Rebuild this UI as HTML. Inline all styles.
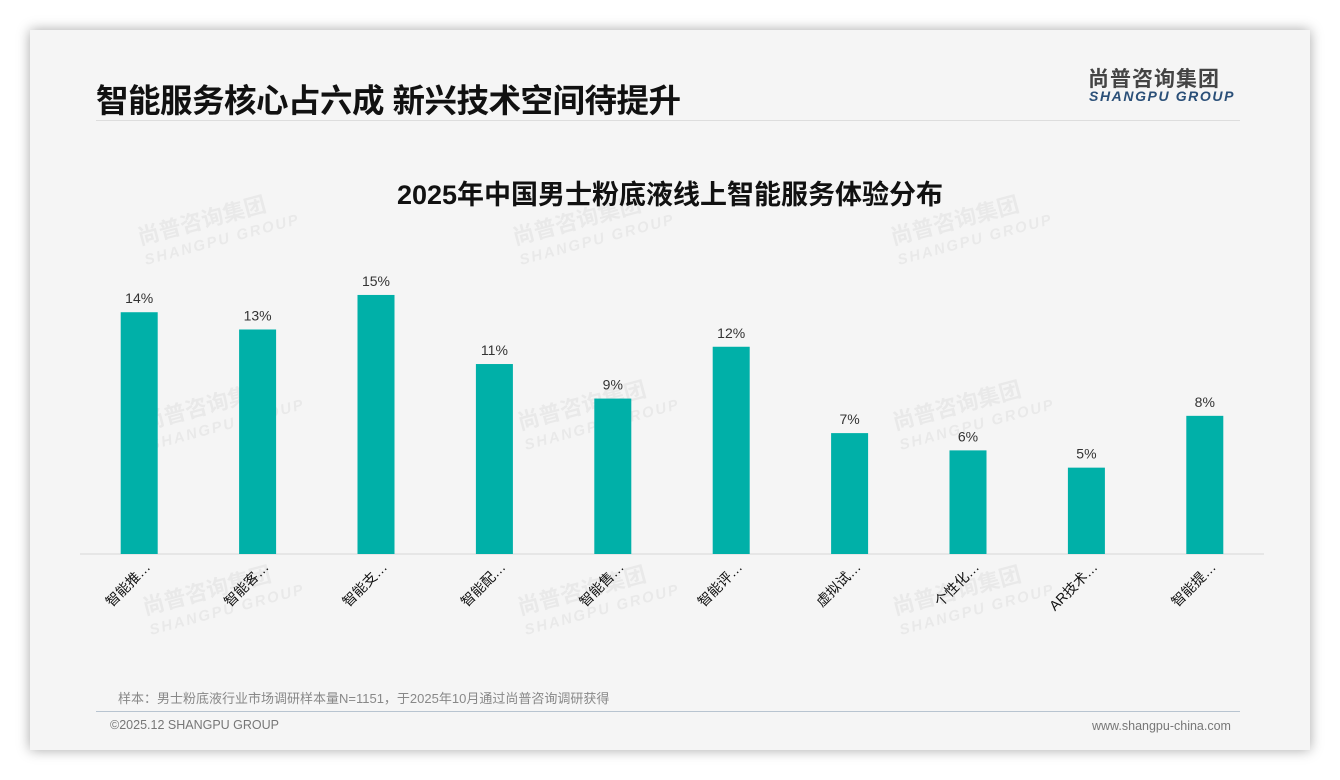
<!DOCTYPE html>
<html><head><meta charset="utf-8">
<style>
body{margin:0;width:1340px;height:780px;background:#fff;font-family:"Liberation Sans","Noto Sans CJK SC",sans-serif;overflow:hidden;position:relative}
#card{position:absolute;left:30px;top:30px;width:1280px;height:720px;background:#f5f5f5;box-shadow:0 0 12px rgba(0,0,0,.35)}
.abs{position:absolute}
</style></head><body>
<div id="card">
<div class="abs" style="left:66px;top:45px;font-size:32.5px;font-weight:bold;color:#111;letter-spacing:-0.5px">智能服务核心占六成 新兴技术空间待提升</div>
<div class="abs" style="left:66px;top:90px;width:1144px;height:1px;background:#ddd"></div>
<div class="abs" style="left:1058px;top:33px;font-size:21px;font-weight:bold;color:#444;letter-spacing:1px">尚普咨询集团</div>
<div class="abs" style="left:1059px;top:58px;font-size:14px;font-weight:bold;font-style:italic;color:#2a4f78;letter-spacing:1.6px">SHANGPU GROUP</div>
<div class="abs" style="left:88px;top:658px;font-size:13px;color:#888">样本：男士粉底液行业市场调研样本量N=1151，于2025年10月通过尚普咨询调研获得</div>
<div class="abs" style="left:66px;top:681px;width:1144px;height:1px;background:#b8c4d0"></div>
<div class="abs" style="left:80px;top:688px;font-size:12.5px;color:#777">©2025.12 SHANGPU GROUP</div>
<div class="abs" style="left:1062px;top:689px;font-size:12.5px;color:#777">www.shangpu-china.com</div>
</div>
<svg id="chart" class="abs" style="left:0;top:0" width="1340" height="780">
<g id="wm" fill="#000" opacity="0.05" font-weight="bold"></g>
<text x="670" y="204" text-anchor="middle" font-size="27" font-weight="bold" fill="#111">2025年中国男士粉底液线上智能服务体验分布</text>
<line x1="80" x2="1264" y1="554" y2="554" stroke="#d8d8d8"/>
<g id="bars"></g>
</svg>
<script>
const categories=["智能推…","智能客…","智能支…","智能配…","智能售…","智能评…","虚拟试…","个性化…","AR技术…","智能提…"];
const values=[14,13,15,11,9,12,7,6,5,8];
const valueLabels=["14%","13%","15%","11%","9%","12%","7%","6%","5%","8%"];
const NS="http://www.w3.org/2000/svg";
const x0=80,x1=1264,base=554,pxPer=17.27;
const band=(x1-x0)/categories.length;
const xs=i=>x0+band*(i+0.5);
const ys=v=>base-v*pxPer;
const g=document.getElementById('bars');
categories.forEach((c,i)=>{
 const cx=xs(i);
 const r=document.createElementNS(NS,'rect');
 r.setAttribute('x',cx-18.5);r.setAttribute('width',37);
 r.setAttribute('y',ys(values[i]));r.setAttribute('height',base-ys(values[i]));
 r.setAttribute('fill','#00b0a8');
 
 
 g.appendChild(r);
 const t=document.createElementNS(NS,'text');
 t.setAttribute('x',cx);t.setAttribute('y',ys(values[i])-9);
 t.setAttribute('text-anchor','middle');t.setAttribute('font-size','14');t.setAttribute('fill','#333');
 t.textContent=valueLabels[i];
 
 
 g.appendChild(t);
 const l=document.createElementNS(NS,'text');
 l.setAttribute('transform','translate('+(cx+12)+',568) rotate(-45)');
 l.setAttribute('text-anchor','end');l.setAttribute('font-size','14');l.setAttribute('fill','#111');
 l.textContent=c;
 
 
 g.appendChild(l);
});
const wm=document.getElementById('wm');
[[140,245],[515,245],[893,245],[145,430],[520,430],[895,430],[145,615],[520,615],[895,615]].forEach(p=>{
 const a=document.createElementNS(NS,'text');
 a.setAttribute('transform','translate('+p[0]+','+p[1]+') rotate(-15)');
 a.setAttribute('font-size','22');a.textContent='尚普咨询集团';
 
 
 wm.appendChild(a);
 const b=document.createElementNS(NS,'text');
 b.setAttribute('transform','translate('+(p[0]+6)+','+(p[1]+20)+') rotate(-15)');
 b.setAttribute('font-size','15');b.setAttribute('font-style','italic');b.setAttribute('letter-spacing','2');b.textContent='SHANGPU GROUP';
 
 
 wm.appendChild(b);
});
</script>
</body></html>
